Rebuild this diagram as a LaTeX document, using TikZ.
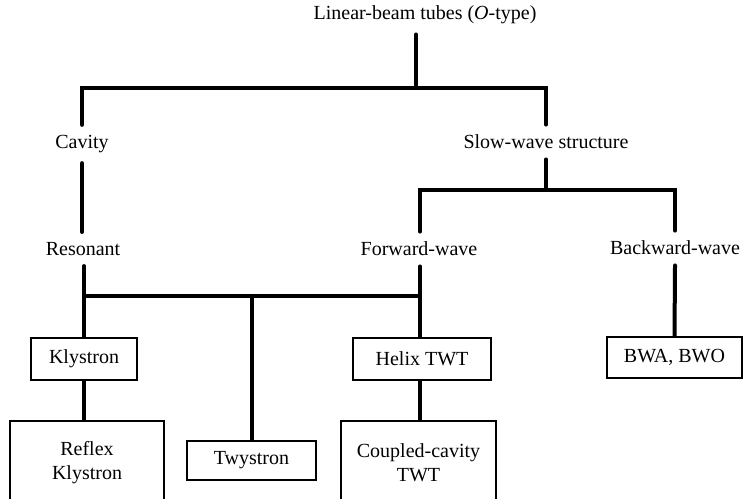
\documentclass[tikz,border=0pt]{standalone}
\usepackage{fontspec}
\setmainfont{Liberation Serif}
\usepackage{tikz}
\usetikzlibrary{positioning,calc}

\begin{document}
\begin{tikzpicture}[
    x=0.5pt, y=-0.5pt,
    conn/.style={line width=2pt, line cap=round},
    lbl/.style={inner xsep=3pt, inner ysep=5pt, font=\fontsize{10}{12}\selectfont},
    box/.style={draw, line width=1pt, inner sep=2pt, align=center, font=\fontsize{10}{12}\selectfont}
]
\useasboundingbox (0,0) rectangle (747,498);
\clip (0,0) rectangle (747,498);

% Ueberschriften
\node[lbl] (title) at (425,15) {Linear-beam tubes (\textit{O}-type)};
\node[lbl] (cavity) at (82,144) {Cavity};
\node[lbl] (slow) at (546,142) {Slow-wave structure};
\node[lbl] (resonant) at (83,249) {Resonant};
\node[lbl] (forward) at (419,249) {Forward-wave};
\node[lbl] (backward) at (675,248) {Backward-wave};

% Kaesten
\node[box, minimum width=53pt, minimum height=21pt] (klystron) at (84,359) {Klystron};
\node[box, minimum width=69pt, minimum height=21pt] (helix) at (422,359) {Helix TWT};
\node[box, minimum width=67.5pt, minimum height=20.5pt] (bwa) at (674.5,357.5) {BWA, BWO};
\node[box, minimum width=77pt, minimum height=42pt] (reflex) at (87,463) {Reflex\\Klystron};
\node[box, minimum width=64.5pt, minimum height=19.5pt] (twystron) at (251.5,460.5) {Twystron};
\node[box, minimum width=77.5pt, minimum height=42pt] (coupled) at (418.5,463) {Coupled-cavity\\TWT};

% Verzweigungspunkte
\coordinate (top) at (416,88);
\coordinate (sw) at (546,190);
\coordinate (jr) at (84,296);
\coordinate (jf) at (420,296);

% obere Ebene
\draw[conn] (title.south -| top) -- (top);
\draw[conn] (cavity.north) |- (top) -| (slow.north);

% Cavity
\draw[conn] (cavity.south) -- (cavity.south |- resonant.north);

% Slow-wave
\draw[conn] (slow.south) -- (sw);
\draw[conn] (forward.north -| jf) |- (sw) -| (backward.north);

% untere Ebene
\draw[conn] (resonant.south -| jr) -- (klystron.north);
\draw[conn] (forward.south -| jf) -- (helix.north -| jf);
\draw[conn] (backward.south) -- (bwa.north);
\draw[conn] (jr) -- (jf);
\draw[conn] (twystron.north |- jr) -- (twystron.north);
\draw[conn] (klystron.south) -- (reflex.north -| klystron.south);
\draw[conn] (helix.south -| jf) -- (coupled.north -| jf);

\end{tikzpicture}
\end{document}
